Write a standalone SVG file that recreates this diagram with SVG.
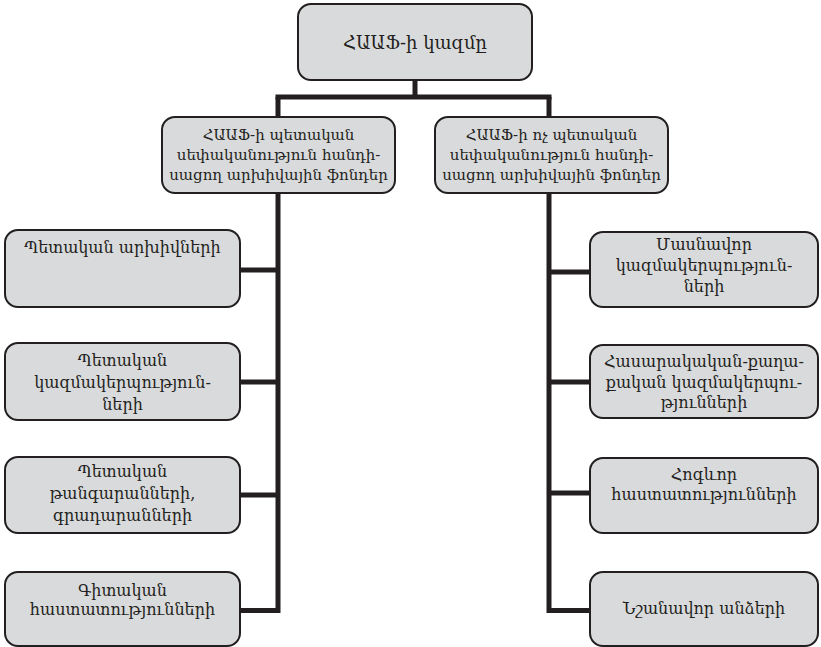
<svg xmlns="http://www.w3.org/2000/svg" width="821" height="647" viewBox="0 0 821 647">
<style>
.box{fill:#d9dadc;stroke:#231f20;stroke-width:2}
.ln{fill:none;stroke:#231f20;stroke-width:5;stroke-linejoin:miter;stroke-linecap:butt}
text{font-family:"DejaVu Serif","Noto Serif",serif;font-size:16px;fill:#231f20;text-anchor:middle}
.big{font-size:18px}
.mid{font-size:15px}
</style>
<rect width="821" height="647" fill="#ffffff"/>
<g id="connectors">
<line class="ln" x1="415" y1="80" x2="415" y2="97"/>
<line class="ln" x1="275.5" y1="97" x2="551.5" y2="97"/>
<polyline class="ln" points="278,97 278,610.5 240,610.5"/>
<line class="ln" x1="240" y1="270" x2="278" y2="270"/>
<line class="ln" x1="240" y1="382" x2="278" y2="382"/>
<line class="ln" x1="240" y1="495" x2="278" y2="495"/>
<polyline class="ln" points="549,97 549,610.5 590,610.5"/>
<line class="ln" x1="549" y1="272" x2="590" y2="272"/>
<line class="ln" x1="549" y1="382" x2="590" y2="382"/>
<line class="ln" x1="549" y1="493" x2="590" y2="493"/>
</g>
<g id="root">
<rect class="box" x="298" y="4" width="234" height="76" rx="13"/>
<text class="big" x="415" y="49">ՀԱԱՖ-ի կազմը</text>
</g>
<g id="state">
<rect class="box" x="162" y="117" width="233" height="76" rx="13"/>
<text class="mid" x="278.5" y="140">ՀԱԱՖ-ի պետական</text>
<text class="mid" x="278.5" y="160">սեփականություն հանդի-</text>
<text class="mid" x="278.5" y="180">սացող արխիվային ֆոնդեր</text>
</g>
<g id="nonstate">
<rect class="box" x="435" y="117" width="233" height="76" rx="13"/>
<text class="mid" x="551.5" y="140">ՀԱԱՖ-ի ոչ պետական</text>
<text class="mid" x="551.5" y="160">սեփականություն հանդի-</text>
<text class="mid" x="551.5" y="180">սացող արխիվային ֆոնդեր</text>
</g>
<g id="state-archives">
<rect class="box" x="5" y="230" width="235" height="77" rx="13"/>
<text x="122.5" y="253">Պետական արխիվների</text>
</g>
<g id="state-orgs">
<rect class="box" x="5" y="343" width="235" height="77" rx="13"/>
<text x="122.5" y="366">Պետական</text>
<text x="122.5" y="388">կազմակերպություն-</text>
<text x="122.5" y="410">ների</text>
</g>
<g id="state-museums">
<rect class="box" x="5" y="457" width="235" height="76" rx="13"/>
<text x="122.5" y="477">Պետական</text>
<text x="122.5" y="499">թանգարանների,</text>
<text x="122.5" y="521">գրադարանների</text>
</g>
<g id="scientific">
<rect class="box" x="5" y="572" width="235" height="74" rx="13"/>
<text x="122.5" y="596">Գիտական</text>
<text x="122.5" y="615">հաստատությունների</text>
</g>
<g id="private-orgs">
<rect class="box" x="590" y="232" width="228" height="75" rx="13"/>
<text x="704" y="250">Մասնավոր</text>
<text x="704" y="271">կազմակերպություն-</text>
<text x="704" y="292">ների</text>
</g>
<g id="public-orgs">
<rect class="box" x="590" y="345" width="228" height="73" rx="13"/>
<text x="704" y="367">Հասարակական-քաղա-</text>
<text x="704" y="388">քական  կազմակերպու-</text>
<text x="704" y="408">թյունների</text>
</g>
<g id="religious">
<rect class="box" x="590" y="458" width="228" height="75" rx="13"/>
<text x="704" y="480">Հոգևոր</text>
<text x="704" y="500">հաստատությունների</text>
</g>
<g id="notable">
<rect class="box" x="590" y="572" width="228" height="74" rx="13"/>
<text x="704" y="614">Նշանավոր անձերի</text>
</g>
</svg>
